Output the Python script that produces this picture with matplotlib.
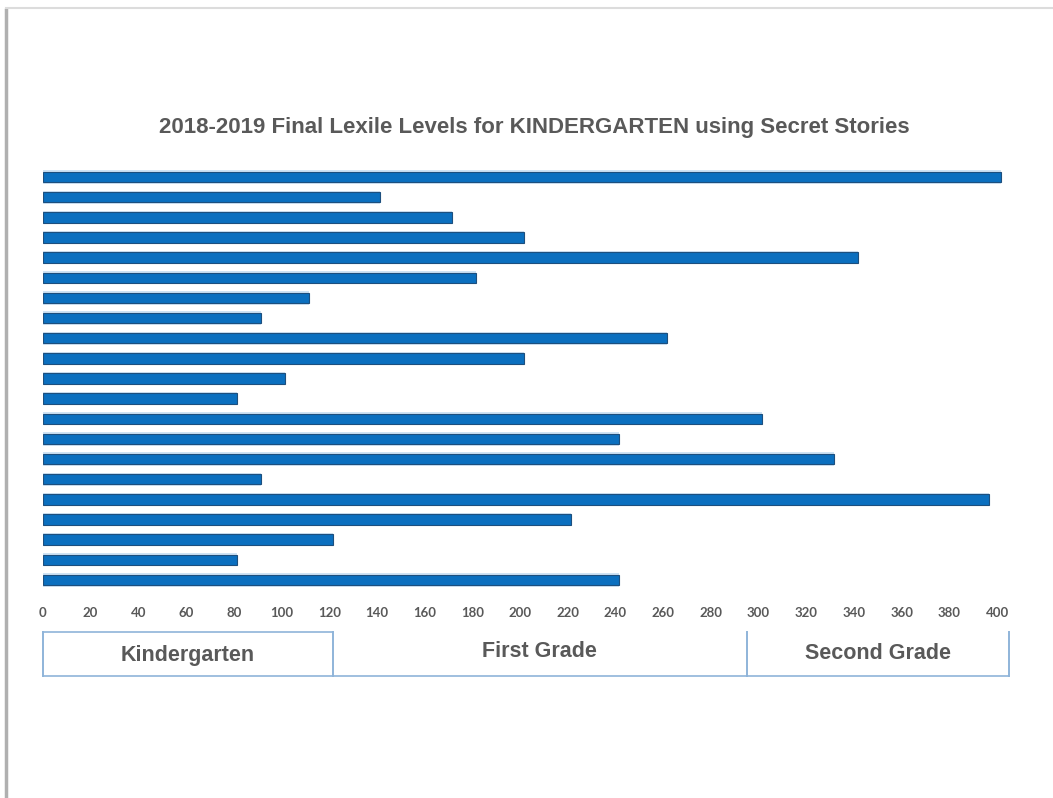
import matplotlib
matplotlib.use("Agg")
import matplotlib.pyplot as plt
from matplotlib.transforms import blended_transform_factory
from matplotlib.lines import Line2D

# 학생별 최종 Lexile 레벨 (위에서 아래 순서)
lexile_levels = [400, 140, 170, 200, 340, 180, 110, 90, 260, 200, 100,
                 80, 300, 240, 330, 90, 395, 220, 120, 80, 240]

# x축 눈금
x_ticks = list(range(0, 401, 20))

# 학년 구간 (라벨, 시작, 끝)
grade_names = ["Kindergarten", "First Grade", "Second Grade"]
grade_edges = [0, 121.5, 295, 405]

TITLE = "2018-2019 Final Lexile Levels for KINDERGARTEN using Secret Stories"
GRAY = "#595959"
BAR_COLOR = "#0b6fbf"
BOX_COLOR = "#8fb4d9"

fig = plt.figure(figsize=(10.53, 7.98), dpi=100)
ax = fig.add_axes([0.0408, 0.2607, 0.9174, 0.53])

# 막대 그리기 (연한 테두리 + 본 막대)
y_pos = list(range(len(lexile_levels)))
ax.barh(y_pos, [v + 1.5 for v in lexile_levels], height=0.66, color="#cfe3f4",
        edgecolor="none")
ax.barh(y_pos, [v + 1.5 for v in lexile_levels], height=0.52, color=BAR_COLOR,
        edgecolor="#1d4f7e", linewidth=0.8)

ax.set_xlim(0, 405)
ax.set_ylim(len(lexile_levels) - 0.5, -0.5)
ax.set_yticks([])
ax.set_xticks(x_ticks)
ax.set_xticklabels([str(t) for t in x_ticks], fontsize=9.5, fontweight="bold",
                   color=GRAY, family="Lato")
ax.tick_params(axis="x", length=0, pad=12)
for s in ax.spines.values():
    s.set_visible(False)

# 제목
fig.text(0.507, 0.840, TITLE, ha="center", va="center", fontsize=16,
         fontweight="bold", color=GRAY, family="Liberation Sans")

# 학년 구간 상자
trans = blended_transform_factory(ax.transData, fig.transFigure)
y_top, y_bot = 0.208, 0.153
ax.plot([grade_edges[0], grade_edges[-1]], [y_bot, y_bot], transform=trans,
        color=BOX_COLOR, lw=1.2, clip_on=False)
ax.plot([grade_edges[0], grade_edges[1]], [y_top, y_top], transform=trans,
        color=BOX_COLOR, lw=1.2, clip_on=False)
for e in grade_edges:
    ax.plot([e, e], [y_bot, y_top], transform=trans, color=BOX_COLOR,
            lw=1.4, clip_on=False)

label_y = [0.179, 0.184, 0.181]
for name, lo, hi, ly in zip(grade_names, grade_edges[:-1], grade_edges[1:], label_y):
    ax.text((lo + hi) / 2, ly, name, transform=trans, ha="center", va="center",
            fontsize=15.5, fontweight="bold", color=GRAY, family="Liberation Sans")

# 스크린샷 테두리
fig.add_artist(Line2D([0.006, 0.006], [0, 0.988], transform=fig.transFigure,
                      color="#b0b0b0", lw=2.5))
fig.add_artist(Line2D([0.006, 1], [0.99, 0.99], transform=fig.transFigure,
                      color="#dcdcdc", lw=1.5))

fig.savefig("out.png", dpi=100)
